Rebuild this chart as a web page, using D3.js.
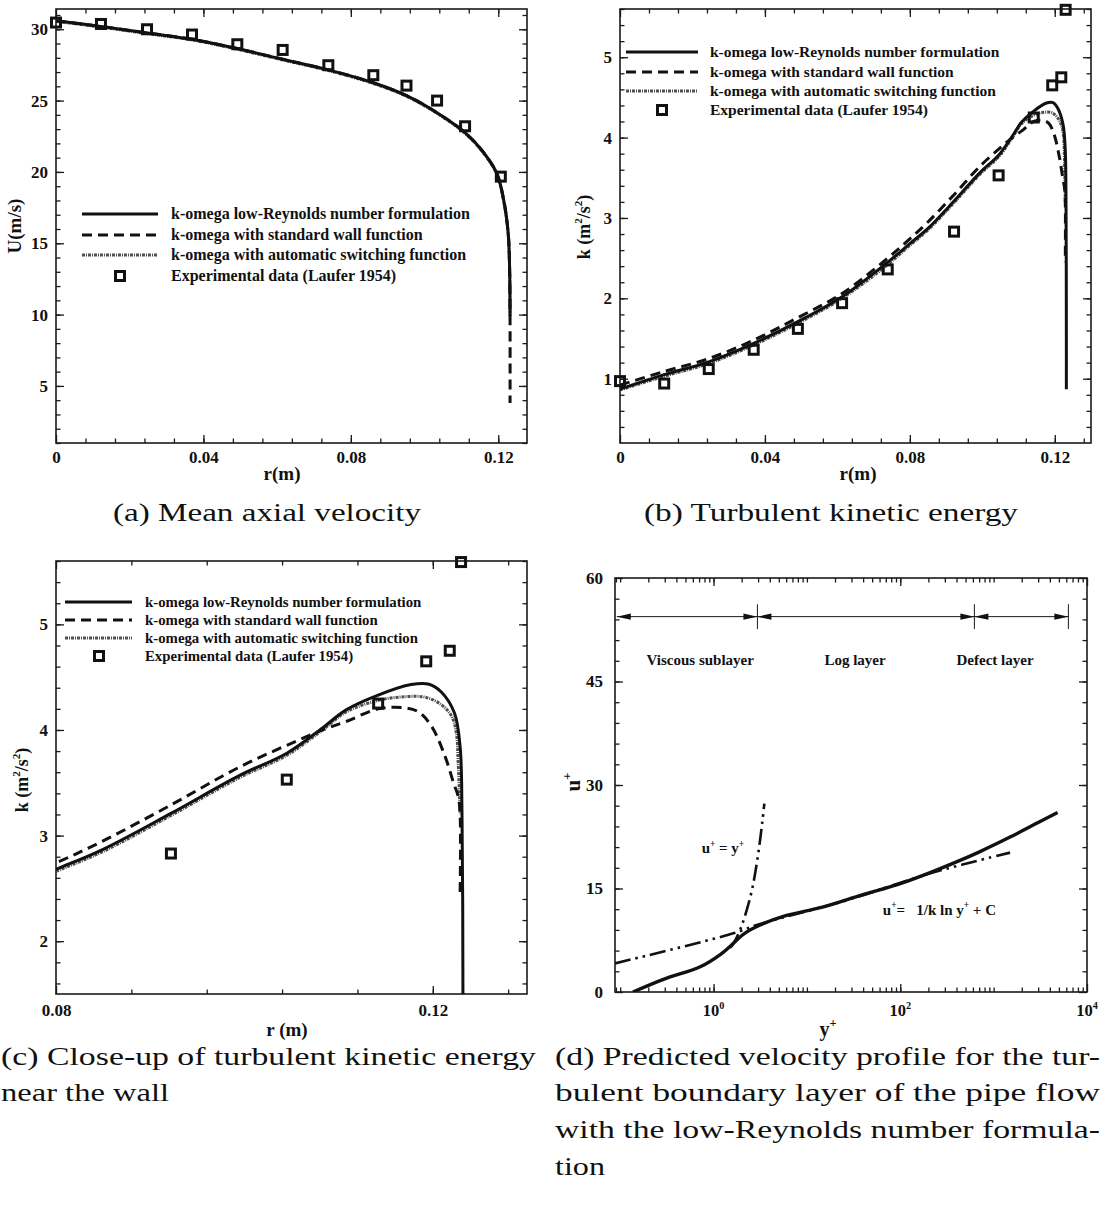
<!DOCTYPE html>
<html>
<head>
<meta charset="utf-8">
<script src="https://cdn.jsdelivr.net/npm/d3@7/dist/d3.min.js"></script>
<style>
body { margin: 0; background: #fff; }
text { font-family: "Liberation Serif", "Times New Roman", serif; fill: #111; }
</style>
</head>
<body>
<svg id="fig" width="1102" height="1207"></svg>
<script>
// (a) mean axial velocity U(r)
const rExpU = [0, 0.0122, 0.0247, 0.0369, 0.0492, 0.0615, 0.0739, 0.0861, 0.0951, 0.1034, 0.111, 0.1207];
const uExp  = [30.47, 30.37, 30.0, 29.63, 28.95, 28.55, 27.48, 26.78, 26.05, 25.0, 23.2, 19.67];
const rU      = [0, 0.0122, 0.0245, 0.0369, 0.0491, 0.0615, 0.0739, 0.0861, 0.0951, 0.1034, 0.111, 0.1159, 0.1196, 0.1215, 0.1227, 0.1231, 0.1232];
const uLowRe  = [30.6, 30.2, 29.75, 29.3, 28.65, 27.9, 27.15, 26.25, 25.35, 24.15, 22.75, 21.4, 19.9, 18.0, 15.7, 13.0, 9.9];
const uWallFn = [30.6, 30.2, 29.75, 29.3, 28.65, 27.9, 27.15, 26.25, 25.35, 24.15, 22.75, 21.4, 19.9, 18.0, 15.7, 13.0, 3.8];
const uAuto   = [30.55, 30.15, 29.7, 29.25, 28.6, 27.85, 27.1, 26.2, 25.3, 24.1, 22.7, 21.35, 19.85, 17.9, 15.6, 12.9, 9.9];

// (b) and (c) turbulent kinetic energy k(r)
const rExpK = [0, 0.0122, 0.0245, 0.0369, 0.0491, 0.0613, 0.0739, 0.0922, 0.1045, 0.1142, 0.1193, 0.1218, 0.123];
const kExp  = [0.97, 0.94, 1.12, 1.36, 1.62, 1.94, 2.36, 2.83, 3.53, 4.25, 4.65, 4.75, 5.59];
const rKLowRe = [0, 0.0122, 0.0245, 0.0369, 0.0491, 0.0613, 0.0739, 0.08, 0.085, 0.0922, 0.0995, 0.1045, 0.1083, 0.1108, 0.1142, 0.1177, 0.1195, 0.1209, 0.1223, 0.1229, 0.1231, 0.1232, 0.1232];
const kLowRe  = [0.87, 1.05, 1.21, 1.44, 1.71, 2.02, 2.45, 2.68, 2.87, 3.21, 3.57, 3.78, 4.02, 4.19, 4.33, 4.43, 4.435, 4.36, 4.16, 3.84, 3.21, 1.5, 0.87];
const rKWallFn = [0, 0.0122, 0.0245, 0.0369, 0.0491, 0.0613, 0.0739, 0.08, 0.085, 0.0922, 0.0995, 0.1054, 0.1083, 0.1108, 0.1142, 0.117, 0.1185, 0.1199, 0.1213, 0.1222, 0.1227, 0.1229, 0.1229];
const kWallFn  = [0.92, 1.09, 1.25, 1.48, 1.76, 2.06, 2.5, 2.74, 2.95, 3.29, 3.65, 3.89, 4.0, 4.08, 4.2, 4.21, 4.17, 4.03, 3.75, 3.5, 3.37, 3.2, 2.45];
const rKAuto = [0, 0.0122, 0.0245, 0.0369, 0.0491, 0.0613, 0.0739, 0.08, 0.085, 0.0922, 0.0995, 0.1045, 0.1083, 0.1108, 0.1142, 0.117, 0.1192, 0.1209, 0.122, 0.1225, 0.1227, 0.1229];
const kAuto  = [0.86, 1.03, 1.19, 1.42, 1.69, 2.0, 2.42, 2.66, 2.85, 3.19, 3.55, 3.76, 4.0, 4.17, 4.28, 4.315, 4.31, 4.24, 4.13, 3.97, 3.68, 3.2];

// (d) velocity profile in wall units
const yPlusModel = [0.137, 0.3, 0.72, 1.2, 1.5, 2.1, 3.15, 5.7, 14.7, 37.5, 60, 100, 209, 400, 715, 1500, 3000, 4842];
const uPlusModel = [0, 1.9, 3.65, 5.5, 6.6, 8.4, 9.7, 11.0, 12.3, 14.0, 14.8, 15.7, 17.3, 18.85, 20.35, 22.45, 24.55, 26.0];
const yPlusVisc = [1.5, 1.63, 1.95, 2.27, 2.6, 2.9, 3.15, 3.35, 3.5];
const uPlusVisc = [6.4, 7.0, 9.2, 11.9, 15.0, 18.6, 22, 25, 27.3];
const yPlusLog = [0.088, 1.63, 2.9, 30, 209, 1500];
const uPlusLog = [4.15, 8.5, 9.7, 13.5, 17.2, 20.2];
const layerEdges = [0.092, 2.95, 622, 6320];
const layerNames = ["Viscous sublayer", "Log layer", "Defect layer"];
const layerLabelAt = [0.72, 32.8, 1035];

// tick labels
const rTicks = [0, 0.04, 0.08, 0.12];
const rTickLabels = ["0", "0.04", "0.08", "0.12"];
const uTicks = [5, 10, 15, 20, 25, 30];
const kTicksB = [1, 2, 3, 4, 5];
const rTicksC = [0.08, 0.12];
const rTickLabelsC = ["0.08", "0.12"];
const kTicksC = [2, 3, 4, 5];
const uPlusTicks = [0, 15, 30, 45, 60];
const yPlusTicks = [1, 100, 10000];
const yPlusTickExp = ["0", "2", "4"];

const legendNames = [
  "k-omega low-Reynolds number formulation",
  "k-omega with standard wall function",
  "k-omega with automatic switching function",
  "Experimental data (Laufer 1954)"
];
const lineStyles = [
  {stroke: "#111", width: 3, dash: null},
  {stroke: "#111", width: 3, dash: "10,6"},
  {stroke: "#505050", width: 3, dash: "3,1,1,1"}
];

const svg = d3.select("#fig");
const ink = "#1a1a1a";

function rich(t, parts, fs) {
  let shift = 0;
  parts.forEach(([s, sup]) => {
    const want = sup ? -0.45 * fs : 0;
    t.append("tspan").attr("dy", want - shift).attr("font-size", sup ? fs * 0.62 : fs).text(s);
    shift = want;
  });
}

function frame(id, x, y, o) {
  const [X0, X1] = x.range(), [Y1, Y0] = y.range();
  svg.append("clipPath").attr("id", id).append("rect")
    .attr("x", X0).attr("y", Y0).attr("width", X1 - X0).attr("height", Y1 - Y0);
  const g = svg.append("g");
  const add = (axis, tx, ty) => g.append("g").attr("transform", `translate(${tx},${ty})`).call(axis)
    .attr("font-family", null).attr("font-size", o.fs || 17).attr("font-weight", "bold")
    .call(s => s.select(".domain").remove())
    .call(s => s.selectAll("line").attr("stroke", ink).attr("stroke-width", 1.3));
  add(d3.axisBottom(x).tickValues(o.xMajor).tickSize(-8).tickPadding(o.xPad || 8).tickFormat(o.xFmt), 0, Y1);
  add(d3.axisBottom(x).tickValues(o.xMinor).tickSize(-4.5).tickFormat(""), 0, Y1);
  add(d3.axisTop(x).tickValues(o.xMajor).tickSize(-8).tickFormat(""), 0, Y0);
  add(d3.axisTop(x).tickValues(o.xMinor).tickSize(-4.5).tickFormat(""), 0, Y0);
  add(d3.axisLeft(y).tickValues(o.yMajor).tickSize(-8).tickPadding(o.yPad || 8).tickFormat(d3.format("d")), X0, 0);
  add(d3.axisLeft(y).tickValues(o.yMinor).tickSize(-4.5).tickFormat(""), X0, 0);
  add(d3.axisRight(y).tickValues(o.yMajor).tickSize(-8).tickFormat(""), X1, 0);
  add(d3.axisRight(y).tickValues(o.yMinor).tickSize(-4.5).tickFormat(""), X1, 0);
  g.append("rect").attr("x", X0).attr("y", Y0).attr("width", X1 - X0).attr("height", Y1 - Y0)
    .attr("fill", "none").attr("stroke", ink).attr("stroke-width", 1.6);
  return g;
}

function curve(id, x, y, xs, ys, st) {
  const line = d3.line().x(d => x(d[0])).y(d => y(d[1])).curve(d3.curveCatmullRom.alpha(0.5));
  svg.append("path").datum(xs.map((v, i) => [v, ys[i]]))
    .attr("clip-path", `url(#${id})`)
    .attr("d", line).attr("fill", "none").attr("stroke", st.stroke)
    .attr("stroke-width", st.width).attr("stroke-dasharray", st.dash)
    .attr("stroke-linejoin", "round");
}

function squares(x, y, xs, ys) {
  svg.append("g").selectAll("rect").data(xs.map((v, i) => [v, ys[i]]).filter(d => d[0] >= x.domain()[0]))
    .join("rect")
    .attr("x", d => x(d[0]) - 4.5).attr("y", d => y(d[1]) - 4.5)
    .attr("width", 9).attr("height", 9)
    .attr("fill", "none").attr("stroke", "#111").attr("stroke-width", 3);
}

function legend(o) {
  const g = svg.append("g").attr("font-size", o.fs).attr("font-weight", "bold");
  legendNames.forEach((name, i) => {
    const yy = o.rows[i];
    if (i < 3) {
      const st = lineStyles[i];
      g.append("line").attr("x1", o.l0).attr("x2", o.l1).attr("y1", yy).attr("y2", yy)
        .attr("stroke", st.stroke).attr("stroke-width", st.width).attr("stroke-dasharray", st.dash);
    } else {
      g.append("rect").attr("x", o.mx - 4.5).attr("y", yy - 4.5).attr("width", 9).attr("height", 9)
        .attr("fill", "none").attr("stroke", "#111").attr("stroke-width", 3);
    }
    g.append("text").attr("x", o.tx).attr("y", yy).attr("dy", "0.33em").text(name);
  });
}

function title(x, y, parts, fs, rotate) {
  const t = svg.append("text").attr("text-anchor", "middle").attr("font-weight", "bold")
    .attr("font-size", fs)
    .attr("transform", `translate(${x},${y})` + (rotate ? " rotate(-90)" : ""));
  rich(t, parts, fs);
}

const rFmtA = d => rTickLabels[rTicks.indexOf(d)];

// ---------- panel (a) ----------
{
  const x = d3.scaleLinear().domain([0, 0.1278]).range([56, 527]);
  const y = d3.scaleLinear().domain([1, 31.42]).range([443, 9]);
  frame("clipA", x, y, {xMajor: rTicks, xMinor: d3.range(0.008, 0.125, 0.008), xFmt: rFmtA,
    yMajor: uTicks, yMinor: d3.range(1, 32, 1)});
  curve("clipA", x, y, rU, uAuto, lineStyles[2]);
  curve("clipA", x, y, rU, uWallFn, lineStyles[1]);
  curve("clipA", x, y, rU, uLowRe, lineStyles[0]);
  squares(x, y, rExpU, uExp);
  legend({l0: 82, l1: 158, tx: 171, mx: 120, rows: [214, 235, 255, 276], fs: 16});
  title(282, 480, [["r(m)"]], 19);
  title(21, 226, [["U(m/s)"]], 19, true);
}

// ---------- panel (b) ----------
{
  const x = d3.scaleLinear().domain([0, 0.13]).range([620, 1091]);
  const y = d3.scaleLinear().domain([0.2, 5.6]).range([443, 9]);
  frame("clipB", x, y, {xMajor: rTicks, xMinor: d3.range(0.008, 0.13, 0.008), xFmt: rFmtA,
    yMajor: kTicksB, yMinor: d3.range(0.4, 5.61, 0.2)});
  curve("clipB", x, y, rKAuto, kAuto, lineStyles[2]);
  curve("clipB", x, y, rKWallFn, kWallFn, lineStyles[1]);
  curve("clipB", x, y, rKLowRe, kLowRe, lineStyles[0]);
  squares(x, y, rExpK, kExp);
  legend({l0: 626, l1: 698, tx: 710, mx: 662, rows: [52, 72, 91, 110], fs: 15.5});
  title(858, 480, [["r(m)"]], 19);
  title(590, 227, [["k (m"], ["2", 1], ["/s"], ["2", 1], [")"]], 18, true);
}

// ---------- panel (c) ----------
{
  const x = d3.scaleLinear().domain([0.08, 0.13]).range([56, 527]);
  const y = d3.scaleLinear().domain([1.5, 5.6]).range([994, 561]);
  frame("clipC", x, y, {xMajor: rTicksC, xMinor: d3.range(0.088, 0.13, 0.008),
    xFmt: d => rTickLabelsC[rTicksC.indexOf(d)], xPad: 10,
    yMajor: kTicksC, yMinor: d3.range(1.6, 5.61, 0.2)});
  curve("clipC", x, y, rKAuto, kAuto, lineStyles[2]);
  curve("clipC", x, y, rKWallFn, kWallFn, lineStyles[1]);
  curve("clipC", x, y, rKLowRe, kLowRe, lineStyles[0]);
  squares(x, y, rExpK, kExp);
  legend({l0: 65, l1: 132, tx: 145, mx: 99, rows: [602, 620, 638, 656], fs: 14.8});
  title(287, 1036, [["r (m)"]], 19);
  title(28, 780, [["k (m"], ["2", 1], ["/s"], ["2", 1], [")"]], 18, true);
}

// ---------- panel (d) ----------
{
  const x = d3.scaleLog().domain([0.088, 10000]).range([615, 1087]);
  const y = d3.scaleLinear().domain([0, 60]).range([992, 578]);
  const minor = [];
  for (let e = -2; e <= 3; e++) for (let m = 1; m <= 9; m++) {
    const v = m * Math.pow(10, e);
    if (v >= 0.088 && v <= 10000) minor.push(v);
  }
  frame("clipD", x, y, {xMajor: yPlusTicks, xMinor: minor, xFmt: () => "", xPad: 8,
    yMajor: uPlusTicks, yMinor: d3.range(3, 60, 3), yPad: 12});
  // decade labels with superscripts
  yPlusTicks.forEach((v, i) => {
    const t = svg.append("text").attr("x", x(v)).attr("y", 1016).attr("text-anchor", "middle")
      .attr("font-weight", "bold");
    rich(t, [["10"], [yPlusTickExp[i], 1]], 16.5);
  });
  const dashDot = {stroke: "#111", width: 2.6, dash: "16,5,2.5,5,2.5,5"};
  curve("clipD", x, y, yPlusLog, uPlusLog, dashDot);
  curve("clipD", x, y, yPlusVisc, uPlusVisc, dashDot);
  curve("clipD", x, y, yPlusModel, uPlusModel, {stroke: "#111", width: 3.4, dash: null});

  // layer annotation arrows
  const ay = y(54.4);
  const a = svg.append("g");
  a.append("line").attr("x1", x(layerEdges[0])).attr("x2", x(layerEdges[3]))
    .attr("y1", ay).attr("y2", ay).attr("stroke", ink).attr("stroke-width", 1);
  layerEdges.slice(1).forEach(v => a.append("line").attr("x1", x(v)).attr("x2", x(v))
    .attr("y1", y(56.2)).attr("y2", y(52.6)).attr("stroke", ink).attr("stroke-width", 1));
  const head = (tip, dir) => a.append("path")
    .attr("d", `M${tip},${ay} L${tip + dir * 14},${ay - 3.2} L${tip + dir * 14},${ay + 3.2} Z`)
    .attr("fill", "#111");
  for (let i = 0; i < 3; i++) {
    head(x(layerEdges[i]), 1);
    head(x(layerEdges[i + 1]), -1);
  }
  layerNames.forEach((n, i) => svg.append("text").attr("x", x(layerLabelAt[i])).attr("y", y(48.1))
    .attr("dy", "0.35em").attr("text-anchor", "middle").attr("font-weight", "bold")
    .attr("font-size", 15).text(n));

  const t1 = svg.append("text").attr("x", x(1.26)).attr("y", y(20.1)).attr("dy", "0.35em")
    .attr("text-anchor", "middle").attr("font-weight", "bold");
  rich(t1, [["u"], ["+", 1], [" = y"], ["+", 1]], 15);
  const t2 = svg.append("text").attr("x", x(65)).attr("y", y(11.2)).attr("dy", "0.35em")
    .attr("font-weight", "bold").attr("xml:space", "preserve");
  rich(t2, [["u"], ["+", 1], ["=   1/k ln y"], ["+", 1], [" + C"]], 15);

  title(580, 782, [["u"], ["+", 1]], 21, true);
  title(828, 1036, [["y"], ["+", 1]], 20);
}

// ---------- captions ----------
const captions = [
  {text: "(a) Mean axial velocity", x: 113, y: 521, w: 308},
  {text: "(b) Turbulent kinetic energy", x: 644, y: 521, w: 374},
  {text: "(c) Close-up of turbulent kinetic energy", x: 1, y: 1065, w: 535},
  {text: "near the wall", x: 1, y: 1101, w: 168},
  {text: "(d) Predicted velocity profile for the tur-", x: 555, y: 1065, w: 545},
  {text: "bulent boundary layer of the pipe flow", x: 555, y: 1101, w: 545},
  {text: "with the low-Reynolds number formula-", x: 555, y: 1138, w: 545},
  {text: "tion", x: 555, y: 1175, w: 50}
];
svg.append("g").selectAll("text").data(captions).join("text")
  .attr("x", d => d.x).attr("y", d => d.y).attr("font-size", 26).attr("fill", "#222")
  .attr("textLength", d => d.w).attr("lengthAdjust", "spacingAndGlyphs")
  .text(d => d.text);
</script>
</body>
</html>
